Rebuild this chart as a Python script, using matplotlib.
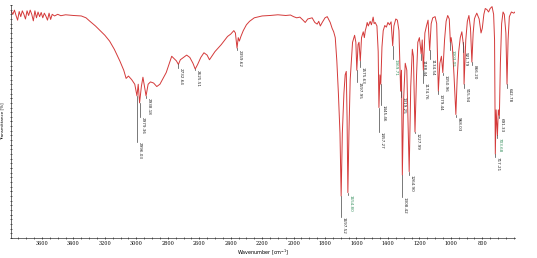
import matplotlib
matplotlib.use('Agg')
import matplotlib.pyplot as plt
from matplotlib.ticker import MultipleLocator, FixedLocator

# traced IR spectrum: wavenumber [cm-1] and transmittance [%]
wavenumber = [
    3797, 3785, 3775, 3765, 3755, 3745, 3735, 3725, 3715, 3705,
    3695, 3685, 3675, 3665, 3655, 3645, 3635, 3625, 3615, 3605,
    3595, 3585, 3575, 3565, 3555, 3545, 3535, 3520, 3500, 3480,
    3450, 3400, 3350, 3320, 3295, 3260, 3230, 3200, 3170, 3140,
    3105, 3080, 3065, 3050, 3030, 3010, 2996.03, 2988, 2979.36, 2968,
    2958, 2938.18, 2925, 2910, 2890, 2870, 2850, 2830, 2810, 2790,
    2775, 2760, 2745, 2732.64, 2720, 2700, 2680, 2660, 2640, 2625.51,
    2610, 2590, 2570, 2550, 2535, 2520, 2500, 2460, 2420, 2400,
    2380, 2370, 2359.62, 2352, 2345, 2335, 2320, 2300, 2280, 2250,
    2200, 2150, 2100, 2050, 2020, 2000, 1980, 1960, 1940, 1926,
    1910, 1882, 1865, 1850, 1840, 1830, 1818, 1800, 1786, 1775,
    1767, 1755, 1745, 1735, 1725, 1715, 1705, 1697.52, 1690, 1680,
    1672, 1665, 1660, 1654.80, 1648, 1640, 1625, 1612, 1604, 1597.95,
    1590, 1584, 1575.63, 1568, 1557, 1550, 1544, 1538, 1532, 1525,
    1513, 1505, 1494, 1488, 1481, 1470, 1462, 1457.27, 1451, 1445.46,
    1438, 1430, 1420, 1410, 1400, 1390, 1380, 1369.71, 1362, 1350,
    1340, 1330, 1319.25, 1314, 1308.42, 1300, 1290, 1280, 1264.90, 1255,
    1245, 1238, 1227.99, 1218, 1210, 1200, 1188.44, 1182, 1174.76, 1165,
    1155, 1145, 1134.54, 1125, 1115, 1100, 1090, 1079.44, 1070, 1060,
    1050.96, 1040, 1030, 1020, 1010, 1003.05, 998, 990, 980, 968.03,
    960, 950, 940, 930, 921.79, 918.5, 915.94, 905, 895, 885,
    875, 866.20, 858, 850, 845, 835, 820, 808, 800, 790,
    781, 770, 760, 750, 738, 728, 722, 717.21, 712, 707,
    703.68, 698, 691.33, 685, 677, 668, 660, 650, 642.78, 636,
    628, 615, 600, 592,
]
transmittance = [
    97.5, 96, 97.8, 95.5, 93.5, 97.2, 95, 97.5, 96, 94,
    97.5, 95.5, 97.8, 96, 93.2, 97.5, 94.5, 97, 95, 96.8,
    94.5, 96.5, 95.2, 93.5, 96.5, 93.8, 96, 95.3, 96, 95.4,
    95.8, 95.5, 95.3, 94.5, 93, 91, 89, 87, 84.5, 81,
    76, 72, 68.5, 69.5, 68, 66, 61, 66, 58, 65,
    69, 61, 66, 67, 66.5, 65, 66, 68.5, 71, 75,
    78, 77, 76, 74.5, 76.5, 77.5, 78.5, 77.5, 75, 72.5,
    74.5, 77.5, 79.5, 78.5, 76.5, 78, 80, 83, 86.5, 87.5,
    89, 88, 81.5, 86, 84.5, 86.5, 89, 91.5, 93, 94.5,
    95.3, 95.5, 95.8, 95.5, 95.7, 95, 94.5, 94.8, 93.5, 92.5,
    94, 94.5, 92.5, 91.8, 93, 91, 92.5, 94.5, 95, 93.5,
    92.5, 90, 88.5, 86, 76, 62, 45, 18, 45, 62,
    70, 71.5, 52, 19.5, 45, 68, 84, 87, 84, 72,
    83, 84, 76, 86, 88.5, 86, 89, 90.5, 92.5, 91,
    93, 91.5, 94.8, 92, 92.5, 91, 80, 56, 70, 66,
    82, 89, 91.2, 90.5, 92.5, 91.5, 92.8, 82.5, 91, 94,
    93.5, 89, 63, 72, 27, 60, 75, 72, 28.5, 65,
    81, 78, 45.5, 70, 84, 86, 79, 85, 72, 88,
    91, 93.5, 80.5, 92, 94.5, 95, 92, 63, 75, 78,
    71, 85, 93, 95.5, 94, 84, 86, 82, 70, 53,
    68, 80, 86, 88.5, 84, 82, 66, 85, 93, 95.5,
    90, 75.5, 88, 94, 95, 96.5, 94, 88, 90, 96,
    98.5, 98, 97, 98.5, 99.3, 96, 85, 36, 55, 48,
    44, 55, 52.5, 75, 92, 97, 96, 88, 66, 85,
    95, 97, 96.5, 97,
]

# picked peaks and where their labels start
peak_wn = [2996.03, 2979.36, 2938.18, 2732.64, 2625.51, 2359.62, 1697.52,
           1654.80, 1597.95, 1575.63, 1457.27, 1445.46, 1369.71, 1319.25,
           1308.42, 1264.90, 1227.99, 1188.44, 1174.76, 1134.54, 1079.44,
           1050.96, 1003.05, 968.03, 921.79, 915.94, 866.20, 717.21,
           703.68, 691.33, 642.78]
label_top = [41.2, 52, 60, 73, 72, 80.5, 9,
             18.5, 67, 73.4, 45.5, 57, 77, 60.5,
             17.6, 27, 45, 76.4, 66.5, 77, 62,
             70, 80.7, 52, 79.8, 64.4, 74.2, 34.8,
             43, 51.5, 64.4]
green_labels = [1654.80, 1369.71, 1003.05, 703.68]

x_ticks = [3600, 3400, 3200, 3000, 2800, 2600, 2400, 2200,
           2000, 1800, 1600, 1400, 1200, 1000, 800]

dip = dict(zip(wavenumber, transmittance))

fig = plt.figure(figsize=(5.37, 2.58), dpi=100)
ax = fig.add_axes([11 / 537, 20 / 258, 504 / 537, 233 / 258])

ax.plot(wavenumber, transmittance, color='#d43a3a', lw=0.7)

for p, top in zip(peak_wn, label_top):
    ax.plot([p, p], [dip[p], top], color='#444444', lw=0.5)
    col = '#2e8b57' if p in green_labels else '#222222'
    ax.text(p - 4, top, f'{p:.2f}', rotation=-90, fontsize=3,
            ha='left', va='top', color=col)

ax.set_xlim(3797, 592)
ax.set_ylim(0, 100)
ax.xaxis.set_major_locator(FixedLocator(x_ticks))
ax.xaxis.set_minor_locator(MultipleLocator(50))
ax.yaxis.set_major_locator(MultipleLocator(10))
ax.yaxis.set_minor_locator(MultipleLocator(2))
ax.set_yticklabels([])
ax.tick_params(axis='x', which='major', labelsize=3.5, length=1.5,
               width=0.5, pad=1.5, direction='inout')
ax.tick_params(axis='both', which='minor', length=1, width=0.4,
               direction='inout')
ax.tick_params(axis='y', which='major', length=1.5, width=0.5,
               direction='inout')
for lab in ax.get_xticklabels():
    lab.set_family('DejaVu Serif')

for s in ['top', 'right']:
    ax.spines[s].set_visible(False)
for s in ['left', 'bottom']:
    ax.spines[s].set_linewidth(0.5)
    ax.spines[s].set_color('#333333')

ax.set_xlabel('Wavenumber [cm$^{-1}$]', fontsize=3.5, labelpad=1)
ax.set_ylabel('Transmittance [%]', fontsize=3, labelpad=1)
ax.yaxis.set_label_coords(-0.013, 0.5)

fig.savefig('out.png', dpi=100)
